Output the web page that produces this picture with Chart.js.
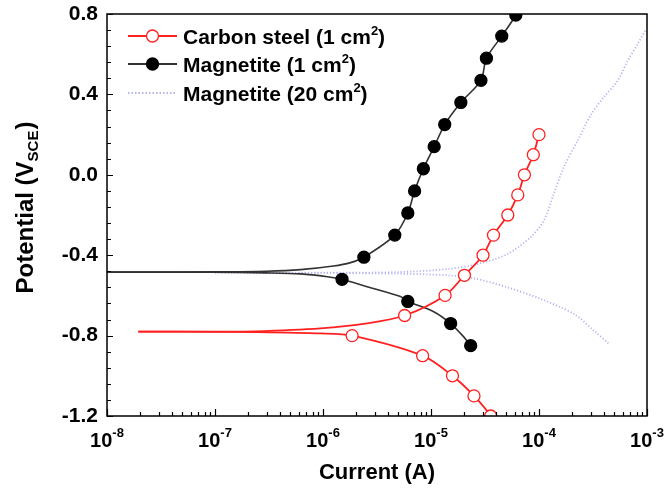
<!DOCTYPE html>
<html>
<head>
<meta charset="utf-8">
<script src="https://cdn.jsdelivr.net/npm/chart.js@4/dist/chart.umd.min.js"></script>
<style>
  html, body { margin: 0; padding: 0; background: #fff; }
  #wrap { width: 665px; height: 490px; }
</style>
</head>
<body>
<div id="wrap"><canvas id="myChart"></canvas></div>
<script>
// Current (A) and potential (V vs SCE)

// Carbon steel (1 cm2) - red, open circles
const csAnodicI = [1.95e-8, 1e-7, 2.3e-7, 9.5e-7, 2.56e-6, 5.7e-6, 1.35e-5, 2.04e-5, 3.03e-5, 3.79e-5, 5.14e-5, 6.36e-5, 7.33e-5, 8.86e-5, 1.0e-4];
const csAnodicE = [-0.78, -0.78, -0.779, -0.764, -0.739, -0.70, -0.60, -0.50, -0.40, -0.30, -0.20, -0.10, 0.0, 0.10, 0.20];
const csCathodicI = [1.95e-8, 1e-7, 2.3e-7, 9.5e-7, 1.86e-6, 8.36e-6, 1.58e-5, 2.5e-5, 3.57e-5, 4.2e-5];
const csCathodicE = [-0.78, -0.781, -0.782, -0.789, -0.80, -0.90, -1.0, -1.1, -1.2, -1.28];
const csMarkerI = [5.7e-6, 1.35e-5, 2.04e-5, 3.03e-5, 3.79e-5, 5.14e-5, 6.36e-5, 7.33e-5, 8.86e-5, 1.0e-4, 1.86e-6, 8.36e-6, 1.58e-5, 2.5e-5, 3.57e-5];
const csMarkerE = [-0.70, -0.60, -0.50, -0.40, -0.30, -0.20, -0.10, 0.0, 0.10, 0.20, -0.80, -0.90, -1.0, -1.1, -1.2];

// Magnetite (1 cm2) - black, filled circles
const mgAnodicI = [1e-8, 1e-7, 3e-7, 6.2e-7, 1.25e-6, 1.8e-6, 2.39e-6, 4.62e-6, 6.1e-6, 7.05e-6, 8.5e-6, 1.07e-5, 1.34e-5, 1.89e-5, 2.9e-5, 3.26e-5, 4.52e-5, 6.1e-5, 7.5e-5];
const mgAnodicE = [-0.484, -0.483, -0.48, -0.472, -0.454, -0.437, -0.41, -0.30, -0.19, -0.08, 0.03, 0.14, 0.25, 0.36, 0.47, 0.58, 0.69, 0.795, 0.90];
const mgCathodicI = [1e-8, 1e-7, 3e-7, 6.2e-7, 1.1e-6, 1.5e-6, 2.56e-6, 5.22e-6, 6.1e-6, 1.06e-5, 1.52e-5, 2.0e-5, 2.33e-5];
const mgCathodicE = [-0.484, -0.485, -0.488, -0.493, -0.507, -0.52, -0.557, -0.606, -0.63, -0.681, -0.74, -0.805, -0.85];
const mgMarkerI = [2.39e-6, 4.62e-6, 6.1e-6, 7.05e-6, 8.5e-6, 1.07e-5, 1.34e-5, 1.89e-5, 2.9e-5, 3.26e-5, 4.52e-5, 6.1e-5, 1.5e-6, 6.1e-6, 1.52e-5, 2.33e-5];
const mgMarkerE = [-0.41, -0.30, -0.19, -0.08, 0.03, 0.14, 0.25, 0.36, 0.47, 0.58, 0.69, 0.795, -0.52, -0.63, -0.74, -0.85];

// Magnetite (20 cm2) - light blue, dotted
const mg20AnodicI = [1e-7, 1e-6, 5e-6, 1.42e-5, 2.69e-5, 5.11e-5, 8.4e-5, 1.11e-4, 1.37e-4, 1.7e-4, 2.28e-4, 3.03e-4, 3.99e-4, 5.35e-4, 6.62e-4, 8.2e-4, 9.8e-4];
const mg20AnodicE = [-0.487, -0.487, -0.484, -0.469, -0.444, -0.394, -0.309, -0.228, -0.095, 0.039, 0.17, 0.30, 0.387, 0.468, 0.567, 0.651, 0.725];
const mg20CathodicI = [1e-7, 1e-6, 5e-6, 1.42e-5, 2.5e-5, 5.11e-5, 1.04e-4, 2.12e-4, 3.24e-4, 4.47e-4];
const mg20CathodicE = [-0.487, -0.488, -0.492, -0.50, -0.515, -0.56, -0.618, -0.693, -0.776, -0.842];

// axes
const yTickValues = [-1.2, -0.8, -0.4, 0.0, 0.4, 0.8];
const xDecades = [-8, -7, -6, -5, -4, -3];
const legendNames = ['Carbon steel (1 cm', 'Magnetite (1 cm', 'Magnetite (20 cm'];

const FONT = 'Arial, "Liberation Sans", sans-serif';
const RED = '#ff2020';
const BLACK = '#333333';
const BLUE = '#b4b4f2';

function toPoints(xs, ys) {
    return xs.map((x, i) => ({ x: x, y: ys[i] }));
}

function lineSet(xs, ys, color, width, dash) {
    return {
        data: toPoints(xs, ys),
        showLine: true,
        borderColor: color,
        borderWidth: width,
        borderDash: dash || [],
        pointRadius: 0,
        tension: 0.3,
        clip: 0
    };
}

function markerSet(xs, ys, fill, stroke) {
    return {
        data: toPoints(xs, ys),
        showLine: false,
        pointRadius: 6,
        pointBackgroundColor: fill,
        pointBorderColor: stroke,
        pointBorderWidth: 1.3,
        clip: 0
    };
}

// frame, inward ticks, x labels with superscripts, axis titles, legend
const decorations = {
    id: 'decorations',
    afterDatasetsDraw(chart) {
        const { ctx, chartArea: a, scales: { x, y } } = chart;
        ctx.save();
        ctx.strokeStyle = '#000';
        ctx.lineWidth = 1.5;
        ctx.strokeRect(a.left, a.top, a.right - a.left, a.bottom - a.top);

        ctx.beginPath();
        ctx.lineWidth = 1.2;
        // y ticks: major every 0.4, minor every 0.08
        for (let k = 0; k <= 25; k++) {
            const v = -1.2 + k * 0.08;
            const py = Math.round(y.getPixelForValue(v)) + 0.5;
            const len = (k % 5 === 0) ? 6 : 4;
            ctx.moveTo(a.left, py);
            ctx.lineTo(a.left + len, py);
        }
        // x ticks: decades and 2..9
        xDecades.forEach(p => {
            for (let m = 1; m <= 9; m++) {
                const val = m * Math.pow(10, p);
                if (val > 1.0001e-3) break;
                const px = Math.round(x.getPixelForValue(val)) + 0.5;
                const len = (m === 1) ? 7 : 4;
                ctx.moveTo(px, a.bottom);
                ctx.lineTo(px, a.bottom - len);
            }
        });
        ctx.stroke();

        // x tick labels 10^n
        ctx.fillStyle = '#000';
        ctx.textBaseline = 'alphabetic';
        ctx.textAlign = 'left';
        xDecades.forEach(p => {
            const px = x.getPixelForValue(Math.pow(10, p));
            ctx.font = 'bold 20px ' + FONT;
            const w1 = ctx.measureText('10').width;
            ctx.font = 'bold 13px ' + FONT;
            const w2 = ctx.measureText(String(p)).width;
            const start = px - (w1 + w2) / 2;
            ctx.font = 'bold 20px ' + FONT;
            ctx.fillText('10', start, 447);
            ctx.font = 'bold 13px ' + FONT;
            ctx.fillText(String(p), start + w1, 437);
        });

        // x title
        ctx.font = 'bold 22px ' + FONT;
        ctx.textAlign = 'center';
        ctx.fillText('Current (A)', (a.left + a.right) / 2, 479);

        // y title with subscript, rotated
        ctx.save();
        ctx.translate(33, 208);
        ctx.rotate(-Math.PI / 2);
        ctx.textAlign = 'left';
        const big = 'bold 24px ' + FONT;
        const small = 'bold 15px ' + FONT;
        ctx.font = big;
        const t1 = 'Potential (V';
        const w1 = ctx.measureText(t1).width;
        ctx.font = small;
        const w2 = ctx.measureText('SCE').width;
        ctx.font = big;
        const w3 = ctx.measureText(')').width;
        let sx = -(w1 + w2 + w3) / 2;
        ctx.fillText(t1, sx, 0);
        ctx.font = small;
        ctx.fillText('SCE', sx + w1, 5);
        ctx.font = big;
        ctx.fillText(')', sx + w1 + w2 + 1, 0);
        ctx.restore();

        // legend
        const rows = [
            { y: 36, color: RED, dash: [], marker: 'open', text: legendNames[0] },
            { y: 64, color: BLACK, dash: [], marker: 'filled', text: legendNames[1] },
            { y: 93, color: BLUE, dash: [1.5, 2], marker: null, text: legendNames[2] }
        ];
        rows.forEach(r => {
            ctx.beginPath();
            ctx.strokeStyle = r.color;
            ctx.lineWidth = 1.8;
            ctx.setLineDash(r.dash);
            ctx.moveTo(128, r.y);
            ctx.lineTo(177, r.y);
            ctx.stroke();
            ctx.setLineDash([]);
            if (r.marker) {
                ctx.beginPath();
                ctx.arc(152.5, r.y, 6, 0, Math.PI * 2);
                ctx.fillStyle = r.marker === 'open' ? '#fff' : '#000';
                ctx.fill();
                ctx.lineWidth = 1.3;
                ctx.strokeStyle = r.marker === 'open' ? RED : '#000';
                ctx.stroke();
            }
            ctx.fillStyle = '#000';
            ctx.textAlign = 'left';
            ctx.font = 'bold 21px ' + FONT;
            ctx.fillText(r.text, 183, r.y + 7.5);
            const tw = ctx.measureText(r.text).width;
            ctx.font = 'bold 13px ' + FONT;
            ctx.fillText('2', 183 + tw, r.y - 1);
            const sw = ctx.measureText('2').width;
            ctx.font = 'bold 21px ' + FONT;
            ctx.fillText(')', 183 + tw + sw, r.y + 7.5);
        });
        ctx.restore();
    }
};

const ctx = document.getElementById('myChart').getContext('2d');
const chart = new Chart(ctx, {
    type: 'scatter',
    data: {
        datasets: [
            // first listed is drawn on top
            markerSet(csMarkerI, csMarkerE, '#ffffff', RED),
            lineSet(csAnodicI, csAnodicE, RED, 1.8),
            lineSet(csCathodicI, csCathodicE, RED, 1.8),
            markerSet(mgMarkerI, mgMarkerE, '#000000', '#000000'),
            lineSet(mgAnodicI, mgAnodicE, BLACK, 1.6),
            lineSet(mgCathodicI, mgCathodicE, BLACK, 1.6),
            lineSet(mg20AnodicI, mg20AnodicE, BLUE, 1.8, [1.2, 2]),
            lineSet(mg20CathodicI, mg20CathodicE, BLUE, 1.8, [1.2, 2])
        ]
    },
    options: {
        responsive: true,
        maintainAspectRatio: false,
        devicePixelRatio: 1,
        animation: false,
        layout: { padding: { top: 14, right: 18, left: 0, bottom: 0 } },
        plugins: { legend: { display: false }, tooltip: { enabled: false } },
        events: [],
        scales: {
            x: {
                type: 'logarithmic',
                min: 1e-8,
                max: 1e-3,
                grid: { display: false, drawTicks: false },
                border: { display: false },
                ticks: { display: false },
                afterFit: s => { s.height = 74; s.paddingLeft = 0; s.paddingRight = 0; }
            },
            y: {
                type: 'linear',
                min: -1.2,
                max: 0.8,
                grid: { display: false, drawTicks: false },
                border: { display: false },
                afterBuildTicks: s => { s.ticks = yTickValues.map(v => ({ value: v })); },
                ticks: {
                    color: '#000',
                    padding: 9,
                    font: { family: FONT, size: 21, weight: 'bold' },
                    callback: v => v.toFixed(1)
                },
                afterFit: s => { s.width = 107; s.paddingTop = 0; s.paddingBottom = 0; }
            }
        }
    },
    plugins: [decorations]
});
</script>
</body>
</html>
